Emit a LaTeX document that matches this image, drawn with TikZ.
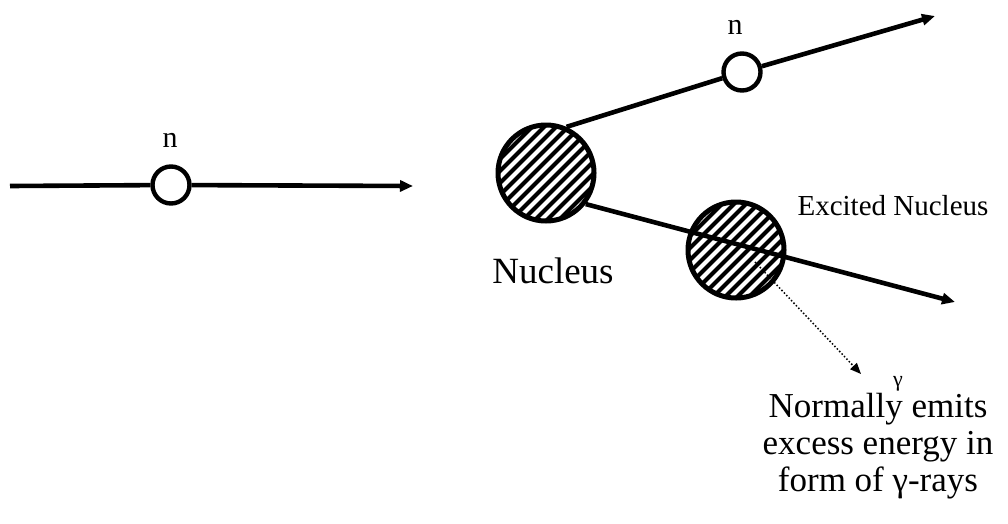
\documentclass[tikz,border=0pt]{standalone}
\usepackage{fontspec}
\setmainfont{Liberation Serif}
\usetikzlibrary{arrows.meta,calc}

\tikzset{
  track/.style={line width=4.6pt, -{Triangle[length=13pt,width=11pt]}},
  neutron/.style={circle, draw, line width=4.4pt, fill=white, minimum size=37pt, inner sep=0pt},
  hatched/.style={circle, draw, line width=5pt, fill=white, minimum size=96pt, inner sep=0pt,
    path picture={
      \foreach \k in {-120,-108,...,120}
        \draw[line width=4pt, shift={(path picture bounding box.center)}]
          (\k-60,60) -- (\k+60,-60);
    }},
  gammaray/.style={line width=1.5pt, dotted, -{Triangle[length=11pt,width=9pt]}},
  lbl/.style={inner sep=0pt, font=\fontsize{30}{32}\selectfont},
}

\begin{document}
\begin{tikzpicture}[x=1pt, y=-1pt]
  \useasboundingbox (0,0) rectangle (1008,523);

  % incoming neutron
  \coordinate (inA) at (10,186);
  \coordinate (inB) at (413,186);
  \node[neutron] (n1) at (171,185) {};
  \draw[line width=4.6pt] (inA) -- (n1);
  \draw[track] (n1) -- (inB);
  \node[lbl] (n1lab) at (170,140) {n};

  % target nucleus
  \node[hatched] (nuc) at (546,173) {};
  \node[inner sep=0pt, font=\fontsize{37}{40}\selectfont] (nuclab) at (553,271) {Nucleus};

  % outgoing neutron
  \node[neutron] (n2) at (742,72) {};
  \coordinate (outA) at (935,16);
  \draw[line width=4.6pt] (nuc.66) -- (n2);
  \draw[track] (n2) -- (outA);
  \node[lbl] (n2lab) at (735,27) {n};

  % excited nucleus and its track
  \node[hatched] (exc) at (736,250) {};
  \coordinate (outB) at (955,302);
  \draw[track] (nuc.-38) -- (outB);
  \node[inner sep=0pt, font=\fontsize{29}{31}\selectfont] (exclab) at (893,206) {Excited Nucleus};

  % gamma emission
  \coordinate (gs) at (755,262);
  \coordinate (ge) at (861,374);
  \draw[gammaray] (gs) -- (ge);
  \node[inner sep=0pt, font=\fontsize{22}{24}\selectfont] (glab) at (898,384) {γ};
  \node[inner sep=0pt, align=center, font=\fontsize{35}{37}\selectfont] (note) at (878,446)
    {Normally emits\\excess energy in\\form of γ-rays};
\end{tikzpicture}
\end{document}
